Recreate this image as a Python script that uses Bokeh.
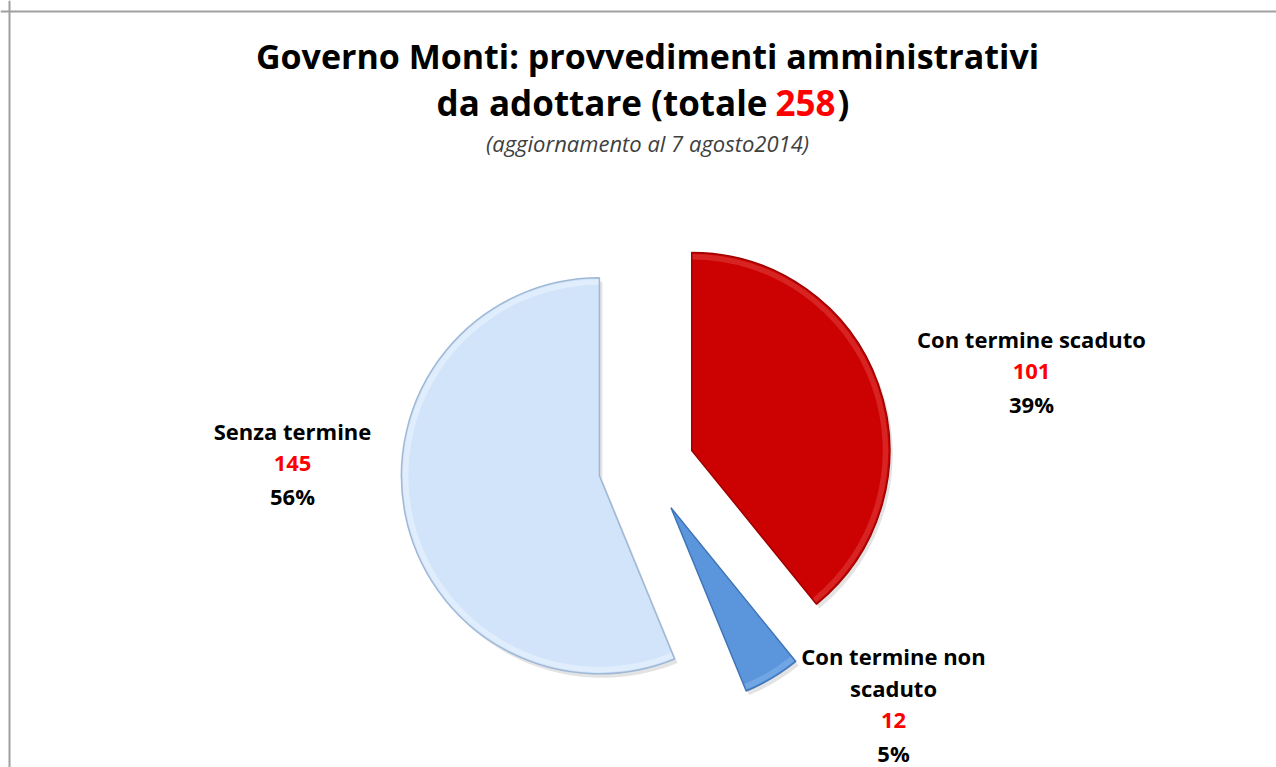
import math
from bokeh.plotting import figure
from bokeh.models import Range1d, Span
from bokeh.core.properties import value
from bokeh.embed import file_html
from bokeh.resources import INLINE

# ---------------- data ----------------
categories = ["Con termine scaduto", "Con termine non scaduto", "Senza termine"]
label_lines = [["Con termine scaduto"], ["Con termine non", "scaduto"], ["Senza termine"]]
counts = [101, 12, 145]
colors = ["#CC0202", "#5B96DC", "#D2E4FA"]
rim_colors = ["#E03A3A", "#7FB0EA", "#EAF3FD"]
edge_colors = ["#A00000", "#3F75B8", "#9FB8D6"]
title_line1 = "Governo Monti: provvedimenti amministrativi"
title_line2 = "da adottare (totale "
subtitle = "(aggiornamento al 7 agosto2014)"

# ---------------- layout ----------------
W, H = 1276, 767
FONT = "Open Sans"


def px(x):  # page x -> data x
    return x


def py(y):  # page y -> data y
    return H - y


p = figure(width=W, height=H, output_backend="svg", toolbar_location=None,
           x_range=Range1d(0, W), y_range=Range1d(0, H), min_border=0)
p.axis.visible = False
p.grid.visible = False
p.outline_line_color = None
p.background_fill_color = "white"
p.border_fill_color = "white"

# frame lines (chart area border)
p.add_layout(Span(location=px(9), dimension="height", line_color="#A0A0A0", line_width=2))
p.add_layout(Span(location=py(11), dimension="width", line_color="#A0A0A0", line_width=2))

# ---------------- pie ----------------
total = sum(counts)
cx, cy = px(646), py(466)
R = 198
explode = 48
cum = 0
slices = []
for v in counts:
    t0 = cum / total * 360.0
    t1 = (cum + v) / total * 360.0
    cum += v
    m = math.radians((t0 + t1) / 2)
    slices.append((cx + explode * math.sin(m), cy + explode * math.cos(m), t0, t1))

# soft shadows
for ox, oy, t0, t1 in slices:
    p.wedge(x=ox + 3, y=oy - 4, radius=R, start_angle=90 - t1, end_angle=90 - t0,
            start_angle_units="deg", end_angle_units="deg",
            fill_color="#B0B0B0", fill_alpha=0.35, line_color=None)

for (ox, oy, t0, t1), c, rc, ec in zip(slices, colors, rim_colors, edge_colors):
    p.wedge(x=ox, y=oy, radius=R, start_angle=90 - t1, end_angle=90 - t0,
            start_angle_units="deg", end_angle_units="deg",
            fill_color=c, line_color=None)
    p.annular_wedge(x=ox, y=oy, inner_radius=R - 7, outer_radius=R - 1.5,
                    start_angle=90 - t1, end_angle=90 - t0,
                    start_angle_units="deg", end_angle_units="deg",
                    fill_color=rc, fill_alpha=0.6, line_color=None)
    p.wedge(x=ox, y=oy, radius=R, start_angle=90 - t1, end_angle=90 - t0,
            start_angle_units="deg", end_angle_units="deg",
            fill_color=None, line_color=ec, line_width=1.5)

# ---------------- labels ----------------
label_anchor = [(1031, 338), (893, 655), (292, 430)]
LS = 32.5
LFS = "22px"
for lines, v, (ax, ay) in zip(label_lines, counts, label_anchor):
    pct = f"{round(v / total * 100)}%"
    all_lines = [(t, "black") for t in lines] + [(str(v), "#FF0000"), (pct, "black")]
    for i, (t, col) in enumerate(all_lines):
        p.text(x=[px(ax)], y=[py(ay + i * LS)], text=[t], text_align="center",
               text_baseline="middle", text_color=col, text_font=value(FONT),
               text_font_style="bold", text_font_size=LFS)

# ---------------- titles ----------------
TFS = "34px"
T2FS = "35px"
p.text(x=[px(647)], y=[py(55)], text=[title_line1], text_align="center",
       text_baseline="middle", text_font=value(FONT), text_font_style="bold",
       text_font_size=TFS, text_color="black")
split_x = 775
p.text(x=[px(split_x - 8)], y=[py(102)], text=[title_line2.strip()], text_align="right",
       text_baseline="middle", text_font=value(FONT), text_font_style="bold",
       text_font_size=T2FS, text_color="black")
p.text(x=[px(split_x)], y=[py(102)], text=[str(total)], text_align="left",
       text_baseline="middle", text_font=value(FONT), text_font_style="bold",
       text_font_size=T2FS, text_color="#FF0000")
p.text(x=[px(split_x + 62)], y=[py(102)], text=[")"], text_align="left",
       text_baseline="middle", text_font=value(FONT), text_font_style="bold",
       text_font_size=T2FS, text_color="black")
p.text(x=[px(647)], y=[py(142)], text=[subtitle], text_align="center",
       text_baseline="middle", text_font=value(FONT), text_font_style="italic",
       text_font_size="22px", text_color="#404040")

open("out.html", "w").write(file_html(p, INLINE))
